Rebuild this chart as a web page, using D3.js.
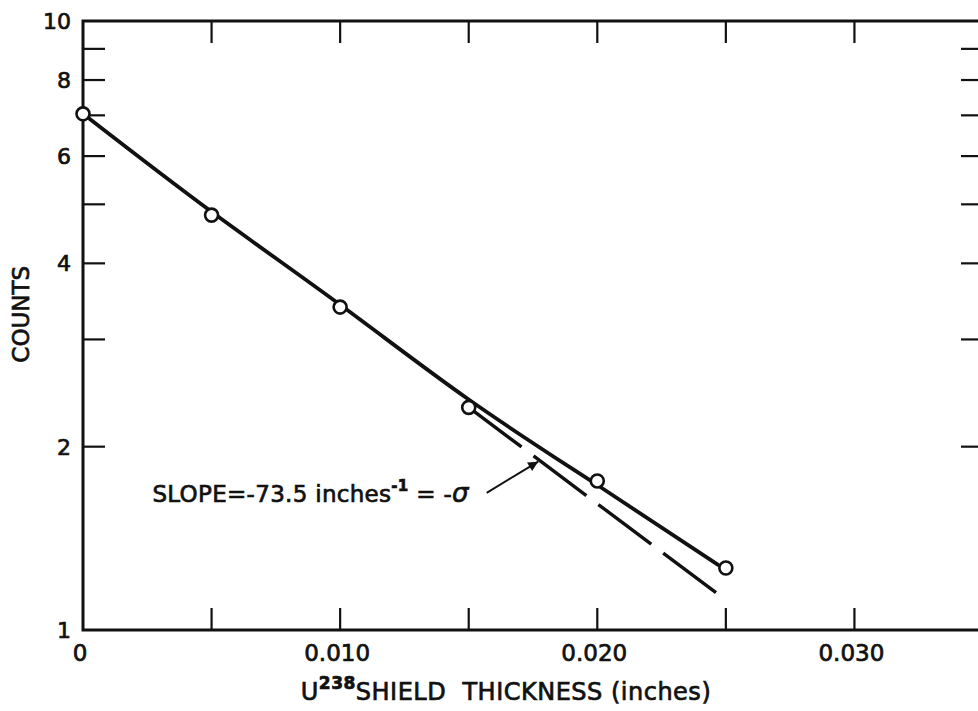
<!DOCTYPE html>
<html>
<head>
<meta charset="utf-8">
<script src="https://cdn.jsdelivr.net/npm/d3@7"></script>
<style>
  html, body { margin: 0; padding: 0; background: #fff; }
  svg { display: block; }
  text { font-family: "DejaVu Sans", sans-serif; fill: #111; stroke: #111; stroke-width: 0.7px; }
</style>
</head>
<body>
<svg id="plot" width="978" height="711"></svg>
<script>
// measured points (shield thickness in inches, counts)
const thickness = [0, 0.005, 0.010, 0.015, 0.020, 0.025];
const counts = [7.04, 4.80, 3.39, 2.32, 1.757, 1.264];

// smooth curve drawn through the points
const fitX = [0, 0.005, 0.010, 0.015, 0.020, 0.0247];
const fitY = [7.04, 4.86, 3.42, 2.39, 1.73, 1.279];

// dashed tangent line, slope = -73.5 / inch
const slopeX = [0.015, 0.0250];
const slopeY = [2.32, 1.12];

// arrow from the label to the dashed line
const arrowX = [0.0157, 0.0177];
const arrowY = [1.68, 1.89];

const xTicks = [0.005, 0.010, 0.015, 0.020, 0.025, 0.030];
const xLabels = [0, 0.010, 0.020, 0.030];
const yTicks = [2, 3, 4, 5, 6, 7, 8, 9];
const yLabels = [1, 2, 4, 6, 8, 10];

class CountsPlot {
  constructor(svg_element_id) {
    this.svg = d3.select('#' + svg_element_id);
    this.margin = ({ top: 21, right: -5, bottom: 81, left: 83 });
    this.width = 978;
    this.height = 711;
  }

  draw() {
    const m = this.margin;
    const svg = this.svg;
    const x = d3.scaleLinear().domain([0, 0.035]).range([m.left, this.width - m.right]);
    const y = d3.scaleLog().domain([1, 10]).range([this.height - m.bottom, m.top]);
    const tickLen = 22;

    const axes = svg.append("g").attr("stroke", "#111").attr("fill", "none");

    // frame
    axes.append("path")
      .attr("stroke-width", 3)
      .attr("d", `M${x(0.035)},${y(10)}H${x(0)}V${y(1)}H${x(0.035)}`);

    // x ticks bottom and top, pointing inward
    axes.selectAll(".xb").data(xTicks).enter().append("line")
      .attr("stroke-width", 2.2)
      .attr("x1", d => x(d)).attr("x2", d => x(d))
      .attr("y1", y(1)).attr("y2", y(1) - tickLen);
    axes.selectAll(".xt").data(xTicks).enter().append("line")
      .attr("stroke-width", 2.2)
      .attr("x1", d => x(d)).attr("x2", d => x(d))
      .attr("y1", y(10)).attr("y2", y(10) + tickLen);

    // y ticks left and right
    axes.selectAll(".yl").data(yTicks).enter().append("line")
      .attr("stroke-width", 2.2)
      .attr("x1", x(0)).attr("x2", x(0) + tickLen)
      .attr("y1", d => y(d)).attr("y2", d => y(d));
    axes.selectAll(".yr").data(yTicks).enter().append("line")
      .attr("stroke-width", 2.2)
      .attr("x1", x(0.035)).attr("x2", x(0.035) - tickLen)
      .attr("y1", d => y(d)).attr("y2", d => y(d));

    // tick labels
    svg.append("g").selectAll("text").data(xLabels).enter().append("text")
      .attr("x", d => x(d) - 3)
      .attr("y", y(1) + 31)
      .attr("text-anchor", "middle")
      .attr("font-size", 23)
      .text(d => d === 0 ? "0" : d.toFixed(3));

    svg.append("g").selectAll("text").data(yLabels).enter().append("text")
      .attr("x", x(0) - 12)
      .attr("y", d => y(d) + 8)
      .attr("text-anchor", "end")
      .attr("font-size", 22)
      .text(d => d);

    // axis titles
    svg.append("text")
      .attr("transform", `translate(29,${y(3.3)}) rotate(-90)`)
      .attr("text-anchor", "middle")
      .attr("font-size", 23)
      .text("COUNTS");

    const xt = svg.append("text")
      .attr("x", 506)
      .attr("y", y(1) + 70)
      .attr("text-anchor", "middle")
      .attr("font-size", 24)
      .attr("letter-spacing", 0.5);
    xt.append("tspan").text("U");
    xt.append("tspan").attr("dy", -11).attr("font-size", 17).attr("font-weight", "bold").text("238");
    xt.append("tspan").attr("dy", 11).text("SHIELD\u00a0\u00a0THICKNESS (inches)");

    // fitted curve
    const line = d3.line()
      .x(d => x(d[0]))
      .y(d => y(d[1]))
      .curve(d3.curveNatural);

    svg.append("path")
      .datum(fitX.map((d, i) => [d, fitY[i]]))
      .attr("fill", "none")
      .attr("stroke", "#111")
      .attr("stroke-width", 3.8)
      .attr("stroke-linecap", "round")
      .attr("d", line);

    // tangent line
    svg.append("path")
      .datum(slopeX.map((d, i) => [d, slopeY[i]]))
      .attr("fill", "none")
      .attr("stroke", "#111")
      .attr("stroke-width", 3.4)
      .attr("stroke-dasharray", "66 15")
      .attr("d", d3.line().x(d => x(d[0])).y(d => y(d[1])));

    // data points
    svg.append("g").selectAll("circle")
      .data(thickness.map((d, i) => [d, counts[i]]))
      .enter().append("circle")
      .attr("cx", d => x(d[0]))
      .attr("cy", d => y(d[1]))
      .attr("r", 6.5)
      .attr("fill", "#fff")
      .attr("stroke", "#111")
      .attr("stroke-width", 2.6);

    // annotation
    svg.append("defs").append("marker")
      .attr("id", "head")
      .attr("viewBox", "0 0 10 10")
      .attr("refX", 10).attr("refY", 5)
      .attr("markerWidth", 16).attr("markerHeight", 10)
      .attr("markerUnits", "userSpaceOnUse")
      .attr("orient", "auto")
      .append("path")
      .attr("d", "M0,0L10,5L0,10Z")
      .attr("fill", "#111");

    svg.append("line")
      .attr("x1", x(arrowX[0])).attr("y1", y(arrowY[0]))
      .attr("x2", x(arrowX[1])).attr("y2", y(arrowY[1]))
      .attr("stroke", "#111")
      .attr("stroke-width", 2)
      .attr("marker-end", "url(#head)");

    const note = svg.append("text")
      .attr("x", x(0.0027))
      .attr("y", y(1.623))
      .attr("font-size", 23)
      .attr("letter-spacing", 0.3);
    note.append("tspan").text("SLOPE=-73.5 inches");
    note.append("tspan").attr("dy", -11).attr("font-size", 15).attr("font-weight", "bold").text("-1");
    note.append("tspan").attr("dy", 11).text(" = -");
    note.append("tspan").attr("font-style", "italic").attr("font-size", 26).text("\u03c3");
  }
}

function whenDocumentLoaded(action) {
  if (document.readyState === "loading") {
    document.addEventListener("DOMContentLoaded", action);
  } else {
    action();
  }
}

whenDocumentLoaded(() => {
  plot_object = new CountsPlot('plot');
  plot_object.draw();
});
</script>
</body>
</html>
